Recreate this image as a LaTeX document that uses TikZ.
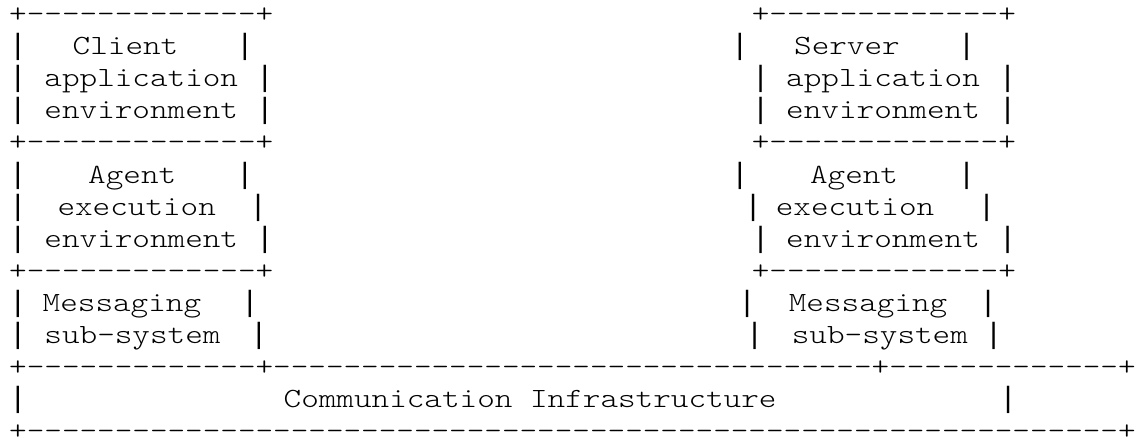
\documentclass[tikz,border=0pt]{standalone}
\usepackage{fontspec}
\newfontfamily\cour{lmmonolt10-regular.otf}[FakeStretch=1.206,Ligatures=TeXOff]
\newfontfamily\barfont{Liberation Mono}
\begin{document}
\begin{tikzpicture}[x=1bp,y=-1bp,
  declare function={cx(\c)=9.2+\c*17.64; ry(\k)=22.6+(\k-1)*32.1;},
  asc/.style={anchor=base west,inner sep=0pt,outer sep=0pt,
    font=\cour\fontsize{27.8bp}{32bp}\selectfont},
  vbar/.style={asc,font=\barfont\fontsize{29.33bp}{32bp}\selectfont}]
\fill[white] (0,0) rectangle (1136,440);
\useasboundingbox (0,0) rectangle (1136,440);
% row 1
\node[asc] (r1a) at ({cx(0)},{ry(1)}) {+-------------+};
\node[asc] (r1b) at ({cx(42.1)},{ry(1)}) {+-------------+};
% row 2
\node[vbar] (r2a) at ({cx(0)},{ry(2)}) {|};
\node[asc] (r2b) at ({cx(3.6)},{ry(2)}) {Client};
\node[vbar] (r2c) at ({cx(12.87)},{ry(2)}) {|};
\node[vbar] (r2d) at ({cx(40.93)},{ry(2)}) {|};
\node[asc] (r2e) at ({cx(44.5)},{ry(2)}) {Server};
\node[vbar] (r2f) at ({cx(53.78)},{ry(2)}) {|};
% row 3
\node[vbar] (r3a) at ({cx(0)},{ry(3)}) {|};
\node[asc] (r3b) at ({cx(2.0)},{ry(3)}) {application};
\node[vbar] (r3c) at ({cx(14)},{ry(3)}) {|};
\node[vbar] (r3d) at ({cx(42.1)},{ry(3)}) {|};
\node[asc] (r3e) at ({cx(44.05)},{ry(3)}) {application};
\node[vbar] (r3f) at ({cx(56.1)},{ry(3)}) {|};
% row 4
\node[vbar] (r4a) at ({cx(0)},{ry(4)}) {|};
\node[asc] (r4b) at ({cx(2.0)},{ry(4)}) {environment};
\node[vbar] (r4c) at ({cx(14)},{ry(4)}) {|};
\node[vbar] (r4d) at ({cx(42.1)},{ry(4)}) {|};
\node[asc] (r4e) at ({cx(44.05)},{ry(4)}) {environment};
\node[vbar] (r4f) at ({cx(56.1)},{ry(4)}) {|};
% row 5
\node[asc] (r5a) at ({cx(0)},{ry(5)}) {+-------------+};
\node[asc] (r5b) at ({cx(42.1)},{ry(5)}) {+-------------+};
% row 6
\node[vbar] (r6a) at ({cx(0)},{ry(6)}) {|};
\node[asc] (r6b) at ({cx(4.48)},{ry(6)}) {Agent};
\node[vbar] (r6c) at ({cx(12.87)},{ry(6)}) {|};
\node[vbar] (r6d) at ({cx(40.93)},{ry(6)}) {|};
\node[asc] (r6e) at ({cx(45.4)},{ry(6)}) {Agent};
\node[vbar] (r6f) at ({cx(53.78)},{ry(6)}) {|};
% row 7
\node[vbar] (r7a) at ({cx(0)},{ry(7)}) {|};
\node[asc] (r7b) at ({cx(2.74)},{ry(7)}) {execution};
\node[vbar] (r7c) at ({cx(13.62)},{ry(7)}) {|};
\node[vbar] (r7d) at ({cx(41.68)},{ry(7)}) {|};
\node[asc] (r7e) at ({cx(43.46)},{ry(7)}) {execution};
\node[vbar] (r7f) at ({cx(54.91)},{ry(7)}) {|};
% row 8
\node[vbar] (r8a) at ({cx(0)},{ry(8)}) {|};
\node[asc] (r8b) at ({cx(2.0)},{ry(8)}) {environment};
\node[vbar] (r8c) at ({cx(14)},{ry(8)}) {|};
\node[vbar] (r8d) at ({cx(42.1)},{ry(8)}) {|};
\node[asc] (r8e) at ({cx(44.05)},{ry(8)}) {environment};
\node[vbar] (r8f) at ({cx(56.1)},{ry(8)}) {|};
% row 9
\node[asc] (r9a) at ({cx(0)},{ry(9)}) {+-------------+};
\node[asc] (r9b) at ({cx(42.1)},{ry(9)}) {+-------------+};
% row 10
\node[vbar] (r10a) at ({cx(0)},{ry(10)}) {|};
\node[asc] (r10b) at ({cx(1.9)},{ry(10)}) {Messaging};
\node[vbar] (r10c) at ({cx(13.15)},{ry(10)}) {|};
\node[vbar] (r10d) at ({cx(41.34)},{ry(10)}) {|};
\node[asc] (r10e) at ({cx(44.2)},{ry(10)}) {Messaging};
\node[vbar] (r10f) at ({cx(55.0)},{ry(10)}) {|};
% row 11
\node[vbar] (r11a) at ({cx(0)},{ry(11)}) {|};
\node[asc] (r11b) at ({cx(2.0)},{ry(11)}) {sub-system};
\node[vbar] (r11c) at ({cx(13.66)},{ry(11)}) {|};
\node[vbar] (r11d) at ({cx(41.76)},{ry(11)}) {|};
\node[asc] (r11e) at ({cx(44.37)},{ry(11)}) {sub-system};
\node[vbar] (r11f) at ({cx(55.31)},{ry(11)}) {|};
% row 12
\node[asc] (r12) at ({cx(0)},{ry(12)}) {+-------------+----------------------------------+-------------+};
% row 13
\node[vbar] (r13a) at ({cx(0)},{ry(13)}) {|};
\node[asc] (r13b) at ({cx(15.56)},{ry(13)}) {Communication Infrastructure};
\node[vbar] (r13c) at ({cx(56.13)},{ry(13)}) {|};
% row 14
\node[asc,text depth=0pt] (r14) at ({cx(0)},{ry(14)}) {+--------------------------------------------------------------+};
\end{tikzpicture}
\end{document}
